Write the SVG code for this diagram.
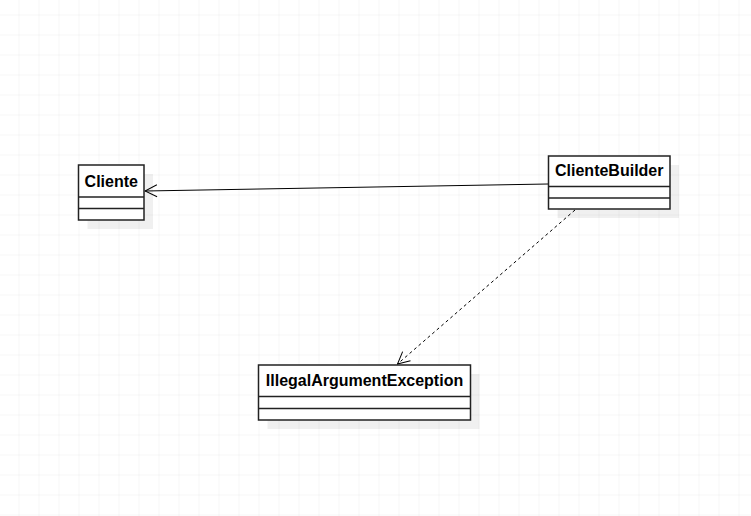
<svg xmlns="http://www.w3.org/2000/svg" width="751" height="516" viewBox="0 0 751 516">
<defs>
<pattern id="grid" x="-0.5" y="-4.5" width="20" height="20" patternUnits="userSpaceOnUse">
<path d="M20 0V20M0 20H20" fill="none" stroke="#ececec" stroke-width="1"/>
</pattern>
<marker id="open" viewBox="0 0 14 14" refX="13" refY="7" markerWidth="14" markerHeight="14" markerUnits="userSpaceOnUse" orient="auto">
<path d="M1 1L13 7L1 13" fill="none" stroke="#000" stroke-width="1"/>
</marker>
</defs>
<style>
.shadow{fill:#000;opacity:0.06}
.box{fill:#fff;stroke:#222;stroke-width:1.5}
.div{stroke:#222;stroke-width:1.5}
.t{font-family:"Liberation Sans",Arial,sans-serif;font-size:16px;font-weight:bold;fill:#000;text-anchor:middle}
.edge{fill:none;stroke:#000;stroke-width:1}
</style>
<rect width="751" height="516" fill="#fff"/>
<rect width="751" height="516" fill="url(#grid)"/>
<g id="connectors">
<line class="edge" x1="548" y1="184" x2="145" y2="191" marker-end="url(#open)"/>
<line class="edge" x1="575" y1="210" x2="397.5" y2="364" stroke-dasharray="3 3" marker-end="url(#open)"/>
</g>
<g id="Cliente">
<rect class="shadow" x="87.5" y="174" width="65.5" height="55"/>
<rect class="box" x="78.5" y="165" width="65.5" height="55"/>
<line class="div" x1="78.5" y1="197" x2="144" y2="197"/>
<line class="div" x1="78.5" y1="208.5" x2="144" y2="208.5"/>
<text class="t" x="111.25" y="186.5">Cliente</text>
</g>
<g id="ClienteBuilder">
<rect class="shadow" x="557.5" y="165" width="121.5" height="53"/>
<rect class="box" x="548.5" y="156" width="121.5" height="53"/>
<line class="div" x1="548.5" y1="186.5" x2="670" y2="186.5"/>
<line class="div" x1="548.5" y1="198" x2="670" y2="198"/>
<text class="t" x="609.25" y="176">ClienteBuilder</text>
</g>
<g id="IllegalArgumentException">
<rect class="shadow" x="267.5" y="374" width="212" height="55"/>
<rect class="box" x="258.5" y="365" width="212" height="55"/>
<line class="div" x1="258.5" y1="396.5" x2="470.5" y2="396.5"/>
<line class="div" x1="258.5" y1="408.5" x2="470.5" y2="408.5"/>
<text class="t" x="364.5" y="386">IllegalArgumentException</text>
</g>
</svg>
